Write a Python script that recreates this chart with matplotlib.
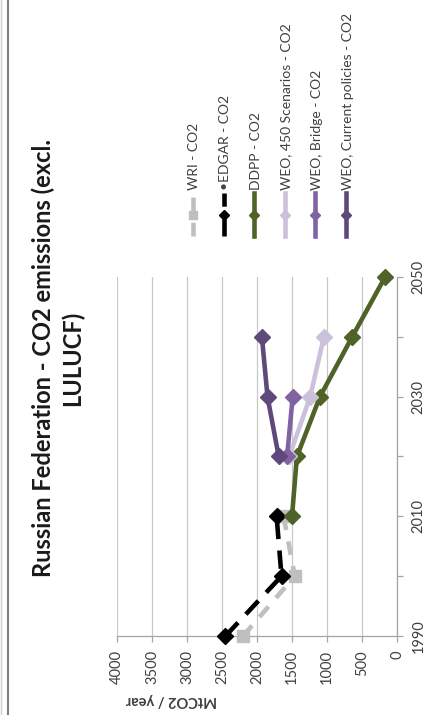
import numpy as np
import matplotlib
matplotlib.use('Agg')
import matplotlib.pyplot as plt
from matplotlib.lines import Line2D

plt.rcParams['font.family'] = ['Lato', 'DejaVu Sans']

# data (MtCO2 / year)
yr_hist = [1990, 2000, 2010]
wri = [2200, 1460, 1620]
edgar = [2450, 1650, 1720]
yr_ddpp = [2010, 2020, 2030, 2040, 2050]
ddpp = [1500, 1430, 1100, 640, 170]
yr_weo = [2020, 2030, 2040]
weo_450 = [1540, 1240, 1045]
yr_bridge = [2020, 2030]
weo_bridge = [1570, 1490]
weo_current = [1690, 1850, 1930]

names = ['WRI - CO2', '\u2022EDGAR - CO2', 'DDPP - CO2', 'WEO, 450 Scenarios - CO2',
         'WEO, Bridge - CO2', 'WEO, Current policies - CO2']
colors = ['#BFBFBF', '#000000', '#4F6228', '#CCC1DA', '#8064A2', '#5F497A']
markers = ['s', 'D', 'D', 'D', 'D', 'D']
styles = [(0, (3, 2.5)), (0, (4, 2.5)), '-', '-', '-', '-']

series = [(wri, yr_hist), (edgar, yr_hist), (ddpp, yr_ddpp), (weo_450, yr_weo),
          (weo_bridge, yr_bridge), (weo_current, yr_weo)]

W, H = 430, 715
fig = plt.figure(figsize=(W / 100, H / 100), dpi=100)

def fx(px):
    return px / W

def fy(py):
    return 1 - py / H

# chart is drawn turned a quarter turn: values run right-to-left, years bottom-to-top
ax = fig.add_axes([fx(117), fy(636), fx(397) - fx(117), fy(277) - fy(636)])
ax.set_xlim(4000, 0)
ax.set_ylim(1990, 2050)

for (vals, yrs), c, m, ls in zip(series, colors, markers, styles):
    ax.plot(vals, yrs, color=c, lw=3.3, ls=ls, marker=m, ms=8,
            mec=c, mfc=c, clip_on=False, zorder=3)

ax.set_xticks(np.arange(0, 4001, 500))
ax.set_yticks(np.arange(1990, 2051, 10))
ax.set_yticklabels(['1990', '', '2010', '', '2030', '', '2050'])
ax.grid(axis='x', color='#C8C8C8', lw=0.9)
ax.set_axisbelow(True)
for s in ['top', 'left']:
    ax.spines[s].set_visible(False)
for s in ['bottom', 'right']:
    ax.spines[s].set_color('#A6A6A6')
    ax.spines[s].set_linewidth(0.9)
ax.yaxis.tick_right()
ax.tick_params(axis='x', direction='out', length=4.3, width=0.9, color='#A6A6A6',
               labelsize=10.5, labelcolor='#404040', labelrotation=90, pad=6)
ax.tick_params(axis='y', direction='out', length=4.3, width=0.9, color='#A6A6A6',
               labelsize=10.5, labelcolor='#404040', labelrotation=90, pad=6)
for lab in ax.get_xticklabels():
    lab.set_va('top')
for lab in ax.get_yticklabels():
    lab.set_va('center')

fig.text(fx(171), fy(700), 'MtCO2 / year', rotation=180, ha='center', va='center',
         fontsize=10.5, fontweight='bold', color='#404040')

fig.text(fx(58), fy(358), 'Russian Federation - CO2 emissions (excl.\nLULUCF)',
         rotation=90, ha='center', va='center', multialignment='center',
         fontsize=17, fontweight='bold', color='#1A1A1A', linespacing=1.25)

# legend, drawn by hand so that it turns with the chart
for i, (name, c, m, ls) in enumerate(zip(names, colors, markers, styles)):
    x = fx(193 + 30.6 * i)
    fig.add_artist(Line2D([x, x], [fy(236), fy(193)], color=c, lw=3.3, ls=ls,
                          transform=fig.transFigure))
    fig.add_artist(Line2D([x], [fy(215)], color=c, marker=m, ms=5.5, mec=c, mfc=c,
                          transform=fig.transFigure))
    fig.text(x + fx(1.5), fy(190), name, rotation=90, ha='center', va='bottom',
             fontsize=10, color='#404040')

# chart border on the left
fig.add_artist(Line2D([fx(1), fx(1)], [0, 1], color='#D0D0D0', lw=1,
                      transform=fig.transFigure))
fig.add_artist(Line2D([fx(7.5), fx(7.5)], [0, 1], color='#7F7F7F', lw=1.5,
                      transform=fig.transFigure))

fig.savefig('out.png', dpi=100)
